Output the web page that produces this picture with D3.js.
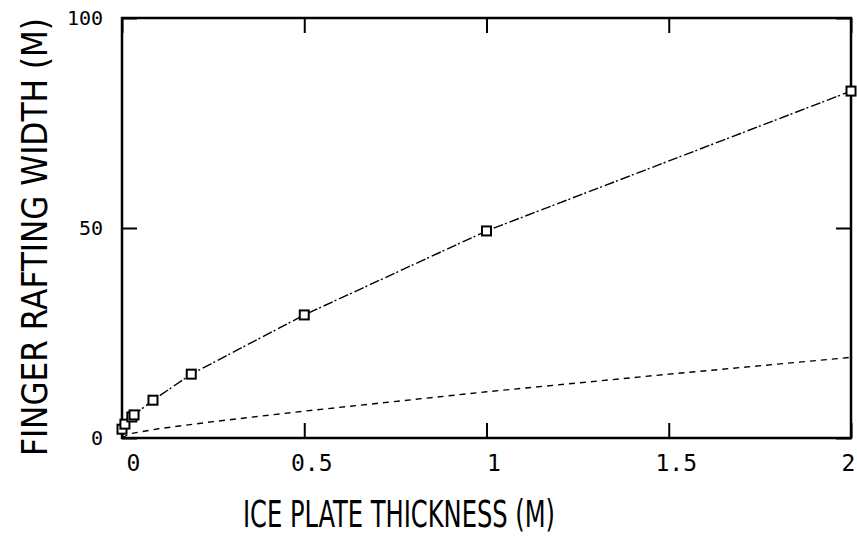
<!DOCTYPE html>
<html>
<head>
<meta charset="utf-8">
<script src="https://cdn.jsdelivr.net/npm/d3@7"></script>
<style>
  html, body { margin: 0; padding: 0; background: #fff; }
  svg { display: block; }
</style>
</head>
<body>
<svg id="chart" width="857" height="540"></svg>
<script>
// ---- data ----
const thickness = [0.0, 0.008, 0.027, 0.033, 0.085, 0.19, 0.5, 1.0, 2.0];
const fingerWidth = [2.1, 3.3, 5.0, 5.5, 9.0, 15.2, 29.3, 49.3, 82.6];
const dashedX = [0.0, 0.02, 0.1, 0.25, 0.5, 1.0, 1.5, 2.0];
const dashedY = [0.0, 1.0, 2.2, 3.9, 6.4, 11.0, 15.2, 19.2];
const xTicks = [0, 0.5, 1, 1.5, 2];
const xTickLabels = ["0", "0.5", "1", "1.5", "2"];
const yTicks = [0, 50, 100];
const yTickLabels = ["0", "50", "100"];
const xTitle = "ICE PLATE THICKNESS (M)";
const yTitle = "FINGER RAFTING WIDTH (M)";

// ---- layout ----
const svg = d3.select("#chart");
const pL = 122, pR = 851, pT = 18, pB = 438;
const x = d3.scaleLinear().domain([0, 2]).range([pL, pR]);
const y = d3.scaleLinear().domain([0, 100]).range([pB, pT]);

const monoFont = "'DejaVu Sans Mono', 'Liberation Mono', monospace";
const titleFont = "'Liberation Sans Narrow', 'DejaVu Sans Condensed', 'Liberation Sans', sans-serif";

// frame
svg.append("rect")
  .attr("x", pL).attr("y", pT)
  .attr("width", pR - pL).attr("height", pB - pT)
  .attr("fill", "none").attr("stroke", "#000").attr("stroke-width", 2.5);

const tickLen = 15;
function styleAxis(g, size) {
  g.select(".domain").remove();
  g.selectAll(".tick line").attr("stroke", "#000").attr("stroke-width", 2);
  g.selectAll(".tick text")
    .attr("fill", "#000")
    .style("font-family", monoFont)
    .style("font-size", size + "px");
}

// bottom axis (ticks inward)
const xAxisB = svg.append("g").attr("transform", `translate(0,${pB})`)
  .call(d3.axisBottom(x).tickValues(xTicks)
    .tickFormat((d, i) => xTickLabels[i])
    .tickSizeInner(-tickLen).tickSizeOuter(0).tickPadding(17));
styleAxis(xAxisB, 23);
xAxisB.selectAll(".tick text").attr("dx", (d, i) => i === 0 ? 11 : (i === 4 ? -3 : 7));

// top axis ticks (no labels)
const xAxisT = svg.append("g").attr("transform", `translate(0,${pT})`)
  .call(d3.axisTop(x).tickValues(xTicks).tickFormat("")
    .tickSizeInner(-tickLen).tickSizeOuter(0));
styleAxis(xAxisT, 23);

// left axis
const yAxisL = svg.append("g").attr("transform", `translate(${pL},0)`)
  .call(d3.axisLeft(y).tickValues(yTicks)
    .tickFormat((d, i) => yTickLabels[i])
    .tickSizeInner(-tickLen).tickSizeOuter(0).tickPadding(19));
styleAxis(yAxisL, 20);

// right axis ticks
const yAxisR = svg.append("g").attr("transform", `translate(${pR},0)`)
  .call(d3.axisRight(y).tickValues(yTicks).tickFormat("")
    .tickSizeInner(-tickLen).tickSizeOuter(0));
styleAxis(yAxisR, 20);

// dashed lower line
const dashedData = dashedX.map((d, i) => [d, dashedY[i]]);
svg.append("path")
  .datum(dashedData)
  .attr("d", d3.line().x(d => x(d[0])).y(d => y(d[1])))
  .attr("fill", "none").attr("stroke", "#000")
  .attr("stroke-width", 1.4)
  .attr("stroke-dasharray", "6,5");

// upper line through squares
const pts = thickness.map((d, i) => [d, fingerWidth[i]]);
svg.append("path")
  .datum(pts)
  .attr("d", d3.line().x(d => x(d[0])).y(d => y(d[1])))
  .attr("fill", "none").attr("stroke", "#000")
  .attr("stroke-width", 1.4)
  .attr("stroke-dasharray", "10,2,2,3");

// square markers
const sq = 9;
svg.append("g").selectAll("rect").data(pts).enter().append("rect")
  .attr("x", d => x(d[0]) - sq / 2)
  .attr("y", d => y(d[1]) - sq / 2)
  .attr("width", sq).attr("height", sq)
  .attr("fill", "#fff").attr("stroke", "#000").attr("stroke-width", 2);

// axis titles
svg.append("text")
  .attr("x", 399).attr("y", 527)
  .attr("text-anchor", "middle")
  .attr("textLength", 312).attr("lengthAdjust", "spacingAndGlyphs")
  .style("font-family", titleFont).style("font-size", "37px")
  .attr("fill", "#000")
  .text(xTitle);

svg.append("text")
  .attr("transform", "translate(47,237) rotate(-90)")
  .attr("text-anchor", "middle")
  .attr("textLength", 438).attr("lengthAdjust", "spacingAndGlyphs")
  .style("font-family", titleFont).style("font-size", "36px")
  .attr("fill", "#000")
  .text(yTitle);
</script>
</body>
</html>
